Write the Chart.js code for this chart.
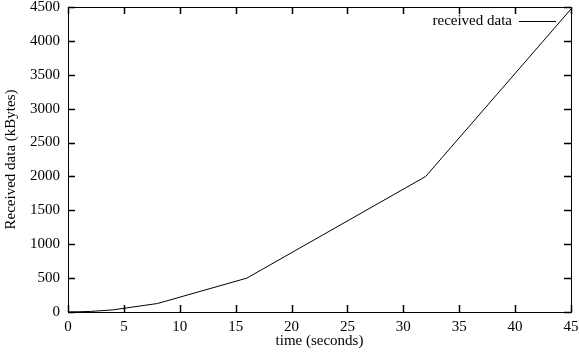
<!DOCTYPE html>
<html>
<head>
<meta charset="utf-8">
<script src="https://cdn.jsdelivr.net/npm/chart.js@4/dist/chart.umd.min.js"></script>
<style>
  html, body { margin: 0; padding: 0; background: #fff; }
  #wrap { width: 579px; height: 354px; }
</style>
</head>
<body>
<div id="wrap"><canvas id="c" width="579" height="354"></canvas></div>
<script>
// Data
const seriesLabel = "received data";
const times = [0, 2, 4, 8, 16, 32, 45];           // seconds
const received = [0, 8, 31, 125, 500, 2000, 4470]; // kBytes
const xTitle = "time (seconds)";
const yTitle = "Received data (kBytes)";
const xTickStep = 5, xMax = 45;
const yTickStep = 500, yMax = 4500;

const FONT = "'Liberation Serif', 'Times New Roman', serif";
const FS = 15;

const framePlugin = {
  id: 'frame',
  afterDraw(chart) {
    const ctx = chart.ctx;
    const a = chart.chartArea;
    const xs = chart.scales.x, ys = chart.scales.y;
    const tl = 7;
    ctx.save();
    ctx.lineWidth = 1.5;
    ctx.strokeStyle = '#000';
    ctx.beginPath();
    for (let v = 0; v <= xMax; v += xTickStep) {
      const px = Math.round(xs.getPixelForValue(v)) + 0.5;
      ctx.moveTo(px, a.bottom); ctx.lineTo(px, a.bottom - tl);
      ctx.moveTo(px, a.top); ctx.lineTo(px, a.top + tl);
    }
    for (let v = 0; v <= yMax; v += yTickStep) {
      const py = Math.round(ys.getPixelForValue(v)) + 0.5;
      ctx.moveTo(a.left, py); ctx.lineTo(a.left + tl, py);
      ctx.moveTo(a.right, py); ctx.lineTo(a.right - tl, py);
    }
    ctx.stroke();
    ctx.lineWidth = 1;
    ctx.strokeRect(Math.round(a.left) + 0.5, Math.round(a.top) + 0.5,
                   Math.round(a.right - a.left), Math.round(a.bottom - a.top));
    // legend (key) in gnuplot style
    const ds = chart.data.datasets[0];
    ctx.font = FS + "px " + FONT;
    ctx.fillStyle = '#000';
    ctx.textAlign = 'right';
    ctx.textBaseline = 'middle';
    const ly = 21.5;
    ctx.fillText(ds.label, 512, ly);
    ctx.beginPath();
    ctx.moveTo(519, ly); ctx.lineTo(556, ly);
    ctx.strokeStyle = ds.borderColor;
    ctx.stroke();
    ctx.restore();
  }
};

new Chart(document.getElementById('c'), {
  type: 'line',
  data: {
    datasets: [{
      label: seriesLabel,
      data: times.map((t, i) => ({ x: t, y: received[i] })),
      borderColor: '#000',
      borderWidth: 1,
      pointRadius: 0,
      tension: 0,
      fill: false
    }]
  },
  options: {
    responsive: false,
    animation: false,
    devicePixelRatio: 1,
    layout: { padding: { top: 7, right: 8, left: 0, bottom: 0 } },
    plugins: { legend: { display: false }, tooltip: { enabled: false } },
    scales: {
      x: {
        type: 'linear',
        min: 0, max: xMax,
        afterFit(s) { s.height = 42; s.paddingLeft = 0; s.paddingRight = 0; },
        grid: { display: false, drawTicks: false },
        border: { display: false },
        ticks: { stepSize: xTickStep, padding: 6, color: '#000', font: { family: FONT, size: FS }, maxRotation: 0,
                 callback: v => String(v) },
        title: { display: true, text: xTitle, color: '#000', font: { family: FONT, size: FS }, padding: { top: 0, bottom: 4 } }
      },
      y: {
        type: 'linear',
        min: 0, max: yMax,
        afterFit(s) { s.width = 68; s.paddingTop = 0; s.paddingBottom = 0; },
        grid: { display: false, drawTicks: false },
        border: { display: false },
        ticks: { stepSize: yTickStep, padding: 8, color: '#000', font: { family: FONT, size: FS },
                 callback: v => String(v) },
        title: { display: true, text: yTitle, color: '#000', font: { family: FONT, size: FS }, padding: { top: 2, bottom: 0 } }
      }
    }
  },
  plugins: [framePlugin]
});
</script>
</body>
</html>
